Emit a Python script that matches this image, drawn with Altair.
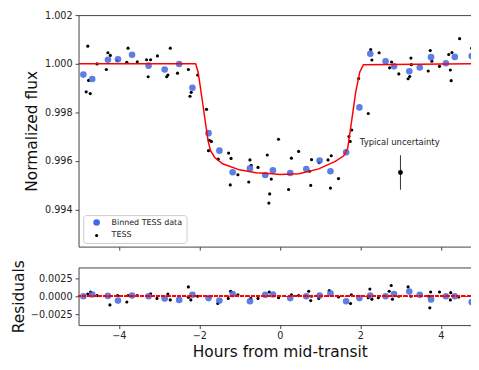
import altair as alt
import pandas as pd

FONT = "DejaVu Sans"

# ---- binned TESS data (hours, normalized flux, residual) ----
bin_x = [-4.88, -4.66, -4.27, -4.02, -3.67, -3.26, -2.86, -2.50, -2.17, -1.77,
         -1.50, -1.17, -0.74, -0.36, -0.17, 0.26, 0.66, 0.99, 1.26, 1.65,
         1.98, 2.25, 2.63, 2.84, 3.22, 3.48, 3.76, 4.13, 4.35, 4.77]
bin_flux = [0.99955, 0.99937, 1.00016, 1.00018, 1.00037, 0.99992, 0.99976, 0.99999, 0.99901, 0.99714,
            0.99642, 0.99553, 0.99569, 0.99542, 0.99561, 0.99550, 0.99566, 0.99601, 0.99557, 0.99635,
            0.99820, 1.00041, 1.00010, 0.99989, 0.99969, 0.99984, 1.00027, 1.00002, 1.00028, 1.00032]
bin_res = [0.0, 0.00025, 0.00005, -0.0006, 0.0001, 0.0, -0.0003, -0.0005, 0.0002, -0.00025,
           -0.0006, 0.0003, -0.0007, 0.0002, 0.00025, -0.00025, 0.0, 0.0001, 0.0004, -0.0007,
           -0.00025, 0.0001, 0.0, 0.0003, 0.00065, 0.0002, -0.00045, 0.0, 0.0, -0.0008]

# ---- unbinned TESS points ----
tess_x = [-4.81, -4.77, -4.75, -4.71, -4.54, -4.31, -4.27, -4.21, -4.04, -3.80,
          -3.77, -3.54, -3.31, -3.21, -3.27, -3.04, -2.81, -2.78, -2.72, -2.54,
          -2.27, -2.23, -2.20, -2.04, -1.82, -1.75, -1.70, -1.77, -1.53, -1.27,
          -1.21, -1.23, -1.04, -0.74, -0.71, -0.77, -0.54, -0.31, -0.21, -0.25,
          -0.27, -0.03, 0.22, 0.29, 0.47, 0.74, 0.79, 0.77, 0.98, 1.20,
          1.28, 1.26, 1.46, 1.72, 1.79, 1.75, 1.96, 2.20, 2.26, 2.29,
          2.47, 2.78, 2.73, 2.96, 3.26, 3.27, 3.19, 3.23, 3.69, 3.74,
          3.78, 3.97, 4.20, 4.24, 4.28, 4.26, 4.47, 4.77, 4.80]
tess_flux = [0.99884, 1.00072, 0.99931, 0.99877, 0.99999, 0.99976, 1.00045, 1.00034, 1.00012, 1.00006,
             1.00064, 1.00008, 1.00016, 1.00016, 0.99946, 1.00032, 0.99946, 0.99953, 1.00064, 0.99961,
             0.99976, 0.99866, 0.99882, 0.99953, 0.99812, 0.99685, 0.99680, 0.99642, 0.99607, 0.99632,
             0.99610, 0.99501, 0.99543, 0.99604, 0.99582, 0.99513, 0.99573, 0.99624, 0.99525, 0.99464,
             0.99426, 0.99689, 0.99482, 0.99611, 0.99639, 0.99557, 0.99605, 0.99499, 0.99592, 0.99604,
             0.99621, 0.99488, 0.99527, 0.99700, 0.99727, 0.99680, 0.99939, 0.99795, 1.00058, 1.00015,
             1.00045, 1.00007, 0.99983, 0.99958, 1.00023, 0.99996, 0.99938, 0.99947, 0.99970, 1.00054,
             1.00010, 0.99989, 1.00038, 0.99974, 1.00046, 0.99930, 1.00103, 1.00064, 1.00004]

res_x = [-4.77, -4.70, -4.54, -4.22, -4.03, -3.80, -3.77, -3.54, -3.21, -3.05,
         -2.78, -2.72, -2.27, -2.27, -2.21, -2.04, -1.73, -1.54, -1.28, -1.22,
         -1.04, -0.72, -0.54, -0.26, -0.03, 0.29, 0.47, 0.72, 0.77, 0.79,
         0.97, 1.23, 1.46, 1.78, 1.76, 2.24, 2.20, 2.29, 2.45, 2.77,
         2.72, 2.80, 2.96, 3.19, 3.26, 3.70, 3.75, 3.73, 3.97, 4.25,
         4.24, 4.45]
res_val = [0.0003, 0.0006, 0.0001, -0.0012, 0.0001, -0.0008, 0.0001, 0.0001, 0.00035, -0.0003,
           0.0003, -0.0005, 0.0013, -0.00015, -0.0005, 0.0, 0.0, -0.001, -0.0003, 0.0007,
           0.0002, -0.0003, -0.0003, 0.0006, -0.0002, 0.0002, 0.0001, 0.0007, -0.0006, 0.0,
           -0.0003, 0.0008, -0.0001, 0.0002, -0.001, 0.001, -0.0002, -0.0004, -0.0002, 0.0015,
           0.0007, -0.0004, 0.0, 0.0013, 0.0, 0.0, 0.0006, -0.0016, 0.0006, 0.0005,
           -0.0005, -0.0001]

# ---- transit model curve ----
model_x = [-5.0, -2.09, -2.03, -1.98, -1.91, -1.84, -1.78, -1.72, -1.62, -1.42,
           -1.0, -0.59, -0.18, 0.0, 0.48, 0.97, 1.38, 1.59, 1.69, 1.74,
           1.81, 1.89, 1.99, 2.08, 5.0]
model_flux = [1.0, 1.0, 0.99966, 0.99912, 0.99831, 0.9975, 0.99682, 0.99642, 0.99615, 0.99588,
              0.99563, 0.99551, 0.99547, 0.99544, 0.99547, 0.99567, 0.99598, 0.99621, 0.99653, 0.9971,
              0.99791, 0.99885, 0.99966, 0.99996, 1.0]

# ---- typical uncertainty ----
unc_x = [3.0]
unc_flux = [0.99552]
unc_err = [0.00071]
unc_label = ["Typical uncertainty"]
unc_label_x = [1.99]
unc_label_y = [0.99678]

series_names = ["Binned TESS data", "TESS"]

W, H_TOP, H_BOT = 405, 233, 58

bins_df = pd.DataFrame({"x": bin_x, "flux": bin_flux, "res": bin_res, "series": series_names[0]})
tess_df = pd.DataFrame({"x": tess_x, "flux": tess_flux, "series": series_names[1]})
res_df = pd.DataFrame({"x": res_x, "res": res_val, "series": series_names[1]})
model_df = pd.DataFrame({"x": model_x, "flux": model_flux})
unc_df = pd.DataFrame({"x": unc_x, "flux": unc_flux,
                       "lo": [f - e for f, e in zip(unc_flux, unc_err)],
                       "hi": [f + e for f, e in zip(unc_flux, unc_err)]})
lab_df = pd.DataFrame({"x": unc_label_x, "flux": unc_label_y, "label": unc_label})

xs = alt.Scale(domain=[-5, 5], nice=False, zero=False)
ys_top = alt.Scale(domain=[0.99247, 1.002], nice=False, zero=False)
ys_bot = alt.Scale(domain=[-0.004, 0.004], nice=False, zero=False)
color_scale = alt.Scale(domain=series_names, range=["royalblue", "black"])
size_scale = alt.Scale(domain=series_names, range=[44, 10])

legend = alt.Legend(orient="none", legendX=4.7, legendY=201.3, title=None,
                    padding=3.5, strokeColor="#cccccc", fillColor="white",
                    cornerRadius=3, labelFont=FONT, labelFontSize=8, labelColor="#222",
                    symbolOffset=6, labelOffset=11, rowPadding=5, symbolType="circle",
                    symbolStrokeWidth=0)

x_top_axis = alt.Axis(values=[-4, -2, 0, 2, 4], labels=False, title=None, domain=False,
                      ticks=True, tickSize=3.5, grid=False)
y_top_axis = alt.Axis(values=[0.994, 0.996, 0.998, 1.000, 1.002], format=".3f",
                      title="Normalized flux", domain=False, grid=False, tickSize=3.5,
                      labelPadding=3, titleX=-47, titleY=H_TOP / 2, titleBaseline="middle",
                      titleAlign="center", titleAngle=270)

X_top = alt.X("x:Q", scale=xs, axis=x_top_axis)
Y_top = alt.Y("flux:Q", scale=ys_top, axis=y_top_axis)

tess_layer = alt.Chart(tess_df).mark_circle(opacity=1, clip=True).encode(
    x=X_top, y=Y_top,
    color=alt.Color("series:N", scale=color_scale, legend=legend),
    size=alt.Size("series:N", scale=size_scale, legend=legend),
)
bins_layer = alt.Chart(bins_df).mark_circle(opacity=0.85, clip=True).encode(
    x=X_top, y=Y_top,
    color=alt.Color("series:N", scale=color_scale, legend=legend),
    size=alt.Size("series:N", scale=size_scale, legend=legend),
)
model_layer = alt.Chart(model_df).mark_line(color="red", strokeWidth=1.5, clip=True).encode(
    x=X_top, y=Y_top)
err_layer = alt.Chart(unc_df).mark_rule(color="#333", strokeWidth=1).encode(
    x=X_top, y=alt.Y("lo:Q", scale=ys_top, axis=y_top_axis), y2="hi:Q")
errpt_layer = alt.Chart(unc_df).mark_circle(color="black", opacity=1, size=24).encode(
    x=X_top, y=Y_top)
label_layer = alt.Chart(lab_df).mark_text(align="left", baseline="middle", font=FONT,
                                          fontSize=8.5, color="#222").encode(
    x=X_top, y=Y_top, text="label:N")

top = alt.layer(tess_layer, bins_layer, model_layer, err_layer, errpt_layer,
                label_layer).properties(width=W, height=H_TOP)

x_bot_axis = alt.Axis(values=[-4, -2, 0, 2, 4], format="d", title="Hours from mid-transit",
                      domain=False, grid=False, tickSize=3.5, labelPadding=2,
                      titleFontSize=15.5, titlePadding=4)
y_bot_axis = alt.Axis(values=[-0.0025, 0.0, 0.0025], format=".4f", title="Residuals",
                      domain=False, grid=False, tickSize=3.5, labelPadding=3,
                      titleX=-60.5, titleY=H_BOT / 2, titleBaseline="middle",
                      titleAlign="center", titleAngle=270)
X_bot = alt.X("x:Q", scale=xs, axis=x_bot_axis)
Y_bot = alt.Y("res:Q", scale=ys_bot, axis=y_bot_axis)

zero_rule = alt.Chart(model_df).mark_rule(color="red", strokeWidth=1.2,
                                          strokeDash=[3.5, 1.8]).encode(
    y=alt.Y(datum=0, scale=ys_bot, axis=y_bot_axis))
res_tess = alt.Chart(res_df).mark_circle(color="black", opacity=1, size=10, clip=True).encode(
    x=X_bot, y=Y_bot)
res_bins = alt.Chart(bins_df).mark_circle(color="royalblue", opacity=0.85, size=44,
                                          clip=True).encode(x=X_bot, y=Y_bot)

bottom = alt.layer(res_tess, res_bins, zero_rule).properties(width=W, height=H_BOT)

chart = alt.vconcat(top, bottom, spacing=21, bounds="flush").properties(
    padding={"left": 2, "top": 0, "right": -12, "bottom": 0}
).configure_axis(
    labelFont=FONT, titleFont=FONT, labelFontSize=9.7, titleFontSize=15.5,
    titleFontWeight="normal", labelColor="#222", titleColor="#111",
    tickColor="#444", tickWidth=1,
).configure_view(stroke="#444", strokeWidth=1)

chart.save("out.html", embed_options={"renderer": "svg", "actions": False})
